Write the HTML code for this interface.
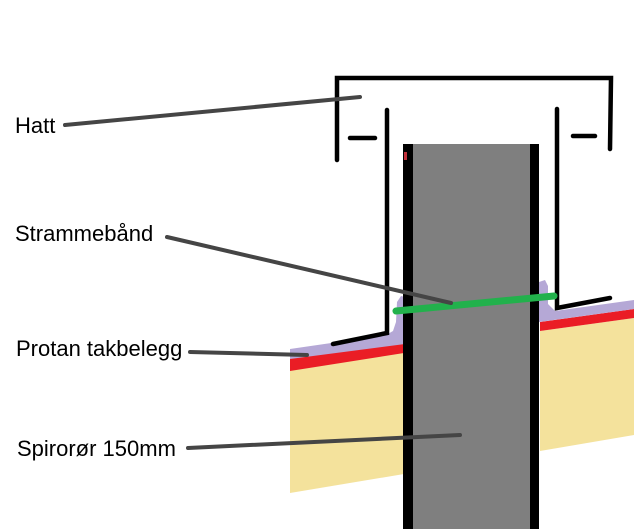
<!DOCTYPE html>
<html>
<head>
<meta charset="utf-8">
<style>
  html, body { margin:0; padding:0; background:#fff; }
  body { width:634px; height:529px; overflow:hidden; }
  svg { display:block; }
  text { font-family: "Liberation Sans", Arial, sans-serif; font-size:22px; fill:#000; }
</style>
</head>
<body>
<svg width="634" height="529" viewBox="0 0 634 529" xmlns="http://www.w3.org/2000/svg">
  <rect width="634" height="529" fill="#fff"/>

  <!-- Left roof -->
  <polygon points="290,370 404,352 404,474 290,493" fill="#f4e29c"/>
  <polygon points="290,358 404,343 404,353 290,371" fill="#ea1d25"/>
  <polygon points="290,349 386,335 393,331 396,322 397,302 401,296 405,297 405,344 290,359" fill="#b5a8d6"/>

  <!-- Right roof -->
  <polygon points="540,331 634,318 634,435 540,451" fill="#f4e29c"/>
  <polygon points="540,322 634,309 634,318 540,331" fill="#ea1d25"/>
  <polygon points="539,282 545,280 548,286 548,304 555,311 634,300 634,309 539,322" fill="#b5a8d6"/>

  <!-- Pipe -->
  <rect x="403" y="144" width="136" height="385" fill="#000"/>
  <rect x="413" y="144" width="117" height="385" fill="#7f7f7f"/>
  <rect x="404" y="152" width="3" height="8" fill="#c0303a"/>

  <!-- Hat -->
  <g stroke="#000" stroke-width="4.5" stroke-linecap="round" fill="none">
    <polyline points="337,160 337,78 611,78 610,149"/>
    <line x1="350" y1="138" x2="375" y2="138"/>
    <line x1="573" y1="136" x2="595" y2="136"/>
    <!-- inner flashing -->
    <polyline points="333,344 387,333 387,110"/>
    <polyline points="557,109 557,308 610,298"/>
  </g>

  <!-- Green band -->
  <line x1="396" y1="311" x2="554" y2="296" stroke="#22b14c" stroke-width="7" stroke-linecap="round"/>

  <!-- Leader lines -->
  <g stroke="#454545" stroke-width="4" stroke-linecap="round" fill="none">
    <line x1="65" y1="125" x2="360" y2="97"/>
    <line x1="167" y1="237" x2="451" y2="303"/>
    <line x1="190" y1="352" x2="307" y2="355"/>
    <line x1="188" y1="448" x2="460" y2="435"/>
  </g>

  <!-- Labels -->
  <text x="15" y="133">Hatt</text>
  <text x="15" y="241">Strammebånd</text>
  <text x="16" y="356">Protan takbelegg</text>
  <text x="17" y="456">Spirorør 150mm</text>
</svg>
</body>
</html>
